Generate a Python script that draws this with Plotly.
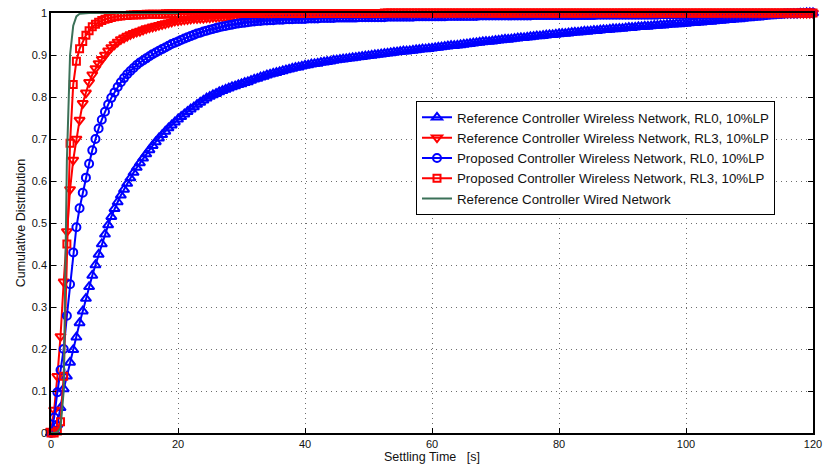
import plotly.graph_objects as go

# Sampling interval of the settling-time grid, seconds
TIME_STEP = 0.5

# Cumulative distribution of settling time, one value every 0.5 s from 0 s
ref_wireless_rl0 = [
    0.000, 0.005, 0.020, 0.060, 0.105, 0.135, 0.168, 0.198, 0.228, 0.262,
    0.290, 0.320, 0.348, 0.375, 0.400, 0.425, 0.450, 0.473, 0.495, 0.515,
    0.534, 0.550, 0.566, 0.580, 0.594, 0.607, 0.620, 0.632, 0.643, 0.654,
    0.664, 0.674, 0.684, 0.693, 0.702, 0.710, 0.718, 0.726, 0.733, 0.740,
    0.747, 0.753, 0.759, 0.765, 0.771, 0.776, 0.782, 0.787, 0.792, 0.797,
    0.801, 0.805, 0.808, 0.812, 0.815, 0.818, 0.821, 0.824, 0.826, 0.829,
    0.831, 0.834, 0.836, 0.839, 0.842, 0.844, 0.847, 0.849, 0.852, 0.854,
    0.856, 0.858, 0.860, 0.862, 0.864, 0.866, 0.868, 0.870, 0.871, 0.873,
    0.875, 0.876, 0.878, 0.879, 0.880, 0.882, 0.883, 0.884, 0.885, 0.887,
    0.888, 0.889, 0.890, 0.891, 0.892, 0.893, 0.894, 0.895, 0.896, 0.897,
    0.898, 0.899, 0.900, 0.901, 0.902, 0.903, 0.904, 0.905, 0.906, 0.907,
    0.908, 0.909, 0.909, 0.910, 0.911, 0.912, 0.913, 0.914, 0.914, 0.915,
    0.916, 0.917, 0.918, 0.919, 0.920, 0.921, 0.922, 0.922, 0.923, 0.924,
    0.925, 0.926, 0.927, 0.928, 0.929, 0.930, 0.931, 0.932, 0.932, 0.933,
    0.934, 0.935, 0.936, 0.937, 0.937, 0.938, 0.939, 0.940, 0.941, 0.941,
    0.942, 0.943, 0.944, 0.945, 0.945, 0.946, 0.947, 0.948, 0.948, 0.949,
    0.950, 0.951, 0.951, 0.952, 0.953, 0.954, 0.954, 0.955, 0.956, 0.956,
    0.957, 0.958, 0.958, 0.959, 0.960, 0.960, 0.961, 0.962, 0.962, 0.963,
    0.963, 0.964, 0.965, 0.965, 0.966, 0.967, 0.967, 0.968, 0.968, 0.969,
    0.970, 0.970, 0.971, 0.971, 0.972, 0.973, 0.973, 0.974, 0.974, 0.975,
    0.975, 0.976, 0.977, 0.977, 0.978, 0.978, 0.979, 0.980, 0.980, 0.981,
    0.982, 0.982, 0.983, 0.984, 0.984, 0.985, 0.986, 0.986, 0.987, 0.988,
    0.988, 0.989, 0.990, 0.990, 0.991, 0.992, 0.993, 0.993, 0.994, 0.995,
    0.995, 0.996, 0.997, 0.997, 0.998, 0.998, 0.999, 0.999, 1.000, 1.000,
    1.000,
]

ref_wireless_rl3 = [
    0.005, 0.055, 0.135, 0.230, 0.360, 0.480, 0.580, 0.650, 0.700, 0.745,
    0.785, 0.810, 0.835, 0.853, 0.868, 0.880, 0.890, 0.900, 0.910, 0.918,
    0.925, 0.931, 0.937, 0.941, 0.945, 0.949, 0.952, 0.955, 0.957, 0.960,
    0.963, 0.965, 0.967, 0.969, 0.971, 0.973, 0.975, 0.977, 0.979, 0.981,
    0.982, 0.983, 0.984, 0.985, 0.986, 0.987, 0.987, 0.988, 0.988, 0.989,
    0.989, 0.990, 0.990, 0.991, 0.991, 0.991, 0.992, 0.992, 0.992, 0.993,
    0.993, 0.993, 0.993, 0.994, 0.994, 0.994, 0.994, 0.994, 0.995, 0.995,
    0.995, 0.995, 0.995, 0.995, 0.995, 0.995, 0.995, 0.995, 0.995, 0.995,
    0.995, 0.995, 0.996, 0.996, 0.996, 0.996, 0.996, 0.996, 0.996, 0.996,
    0.996, 0.996, 0.996, 0.996, 0.996, 0.996, 0.996, 0.996, 0.996, 0.996,
    0.996, 0.996, 0.997, 0.997, 0.997, 0.997, 0.997, 0.997, 0.997, 0.997,
    0.997, 0.997, 0.997, 0.997, 0.997, 0.997, 0.997, 0.997, 0.997, 0.997,
    0.997, 0.997, 0.997, 0.997, 0.997, 0.998, 0.998, 0.998, 0.998, 0.998,
    0.998, 0.998, 0.998, 0.998, 0.998, 0.998, 0.998, 0.998, 0.998, 0.998,
    0.998, 0.998, 0.998, 0.998, 0.998, 0.998, 0.998, 0.998, 0.998, 0.998,
    0.998, 0.998, 0.998, 0.998, 0.998, 0.998, 0.998, 0.998, 0.998, 0.998,
    0.998, 0.998, 0.998, 0.998, 0.998, 0.999, 0.999, 0.999, 0.999, 0.999,
    0.999, 0.999, 0.999, 0.999, 0.999, 0.999, 0.999, 0.999, 0.999, 0.999,
    0.999, 0.999, 0.999, 0.999, 0.999, 0.999, 0.999, 0.999, 0.999, 0.999,
    0.999, 0.999, 0.999, 0.999, 0.999, 0.999, 0.999, 0.999, 0.999, 0.999,
    0.999, 0.999, 0.999, 0.999, 0.999, 0.999, 0.999, 0.999, 0.999, 0.999,
    0.999, 0.999, 0.999, 0.999, 0.999, 0.999, 0.999, 0.999, 0.999, 0.999,
    0.999, 0.999, 0.999, 0.999, 0.999, 1.000, 1.000, 1.000, 1.000, 1.000,
    1.000, 1.000, 1.000, 1.000, 1.000, 1.000, 1.000, 1.000, 1.000, 1.000,
    1.000,
]

prop_wireless_rl0 = [
    0.000, 0.037, 0.097, 0.150, 0.200, 0.279, 0.354, 0.430, 0.490, 0.535,
    0.572, 0.608, 0.641, 0.673, 0.700, 0.725, 0.746, 0.765, 0.782, 0.798,
    0.811, 0.824, 0.835, 0.845, 0.854, 0.862, 0.869, 0.876, 0.882, 0.887,
    0.892, 0.897, 0.902, 0.906, 0.910, 0.914, 0.918, 0.922, 0.926, 0.929,
    0.932, 0.936, 0.939, 0.942, 0.945, 0.948, 0.951, 0.953, 0.956, 0.958,
    0.960, 0.962, 0.964, 0.966, 0.968, 0.969, 0.971, 0.972, 0.974, 0.975,
    0.976, 0.977, 0.978, 0.979, 0.980, 0.981, 0.981, 0.982, 0.982, 0.983,
    0.983, 0.984, 0.984, 0.984, 0.985, 0.985, 0.985, 0.986, 0.986, 0.986,
    0.986, 0.987, 0.987, 0.987, 0.987, 0.988, 0.988, 0.988, 0.988, 0.988,
    0.989, 0.989, 0.989, 0.989, 0.989, 0.989, 0.989, 0.990, 0.990, 0.990,
    0.990, 0.990, 0.990, 0.990, 0.990, 0.990, 0.991, 0.991, 0.991, 0.991,
    0.991, 0.991, 0.991, 0.991, 0.991, 0.992, 0.992, 0.992, 0.992, 0.992,
    0.992, 0.992, 0.992, 0.992, 0.992, 0.993, 0.993, 0.993, 0.993, 0.993,
    0.993, 0.993, 0.993, 0.993, 0.993, 0.994, 0.994, 0.994, 0.994, 0.994,
    0.994, 0.994, 0.994, 0.994, 0.994, 0.994, 0.994, 0.994, 0.994, 0.994,
    0.994, 0.994, 0.995, 0.995, 0.995, 0.995, 0.995, 0.995, 0.995, 0.995,
    0.995, 0.995, 0.995, 0.995, 0.995, 0.995, 0.995, 0.995, 0.995, 0.995,
    0.995, 0.995, 0.996, 0.996, 0.996, 0.996, 0.996, 0.996, 0.996, 0.996,
    0.996, 0.996, 0.996, 0.996, 0.996, 0.996, 0.996, 0.996, 0.996, 0.996,
    0.996, 0.996, 0.997, 0.997, 0.997, 0.997, 0.997, 0.997, 0.997, 0.997,
    0.997, 0.997, 0.997, 0.997, 0.997, 0.997, 0.997, 0.997, 0.997, 0.997,
    0.997, 0.997, 0.998, 0.998, 0.998, 0.998, 0.998, 0.998, 0.998, 0.998,
    0.998, 0.998, 0.998, 0.998, 0.998, 0.998, 0.998, 0.998, 0.998, 0.998,
    0.998, 0.999, 0.999, 0.999, 0.999, 0.999, 1.000, 1.000, 1.000, 1.000,
    1.000,
]

prop_wireless_rl3 = [
    0.000, 0.000, 0.005, 0.027, 0.135, 0.450, 0.690, 0.830, 0.885, 0.915,
    0.932, 0.947, 0.958, 0.967, 0.973, 0.978, 0.982, 0.985, 0.987, 0.989,
    0.991, 0.992, 0.993, 0.994, 0.994, 0.995, 0.995, 0.996, 0.996, 0.996,
    0.997, 0.997, 0.997, 0.997, 0.997, 0.997, 0.998, 0.998, 0.998, 0.998,
    0.998, 0.998, 0.998, 0.998, 0.998, 0.998, 0.998, 0.998, 0.998, 0.998,
    0.998, 0.998, 0.998, 0.998, 0.998, 0.999, 0.999, 0.999, 0.999, 0.999,
    0.999, 0.999, 0.999, 0.999, 0.999, 0.999, 0.999, 0.999, 0.999, 0.999,
    0.999, 0.999, 0.999, 0.999, 0.999, 0.999, 0.999, 0.999, 0.999, 0.999,
    0.999, 0.999, 0.999, 0.999, 0.999, 0.999, 0.999, 0.999, 0.999, 0.999,
    0.999, 0.999, 0.999, 0.999, 0.999, 0.999, 0.999, 0.999, 0.999, 0.999,
    0.999, 0.999, 0.999, 0.999, 0.999, 1.000, 1.000, 1.000, 1.000, 1.000,
    1.000, 1.000, 1.000, 1.000, 1.000, 1.000, 1.000, 1.000, 1.000, 1.000,
    1.000, 1.000, 1.000, 1.000, 1.000, 1.000, 1.000, 1.000, 1.000, 1.000,
    1.000, 1.000, 1.000, 1.000, 1.000, 1.000, 1.000, 1.000, 1.000, 1.000,
    1.000, 1.000, 1.000, 1.000, 1.000, 1.000, 1.000, 1.000, 1.000, 1.000,
    1.000, 1.000, 1.000, 1.000, 1.000, 1.000, 1.000, 1.000, 1.000, 1.000,
    1.000, 1.000, 1.000, 1.000, 1.000, 1.000, 1.000, 1.000, 1.000, 1.000,
    1.000, 1.000, 1.000, 1.000, 1.000, 1.000, 1.000, 1.000, 1.000, 1.000,
    1.000, 1.000, 1.000, 1.000, 1.000, 1.000, 1.000, 1.000, 1.000, 1.000,
    1.000, 1.000, 1.000, 1.000, 1.000, 1.000, 1.000, 1.000, 1.000, 1.000,
    1.000, 1.000, 1.000, 1.000, 1.000, 1.000, 1.000, 1.000, 1.000, 1.000,
    1.000, 1.000, 1.000, 1.000, 1.000, 1.000, 1.000, 1.000, 1.000, 1.000,
    1.000, 1.000, 1.000, 1.000, 1.000, 1.000, 1.000, 1.000, 1.000, 1.000,
    1.000, 1.000, 1.000, 1.000, 1.000, 1.000, 1.000, 1.000, 1.000, 1.000,
    1.000,
]

# Wired network reference, sampled 0 .. 20 s
ref_wired = [
    0.000, 0.000, 0.002, 0.012, 0.100, 0.650, 0.900, 0.970, 0.992, 0.998,
    0.999, 1.000, 1.000, 1.000, 1.000, 1.000, 1.000, 1.000, 1.000, 1.000,
    1.000, 1.000, 1.000, 1.000, 1.000, 1.000, 1.000, 1.000, 1.000, 1.000,
    1.000, 1.000, 1.000, 1.000, 1.000, 1.000, 1.000, 1.000, 1.000, 1.000,
    1.000,
]

series_names = [
    "Reference Controller Wireless Network, RL0, 10%LP",
    "Reference Controller Wireless Network, RL3, 10%LP",
    "Proposed Controller Wireless Network, RL0, 10%LP",
    "Proposed Controller Wireless Network, RL3, 10%LP",
    "Reference Controller Wired Network",
]

x_tick_vals = [0, 20, 40, 60, 80, 100, 120]
y_tick_vals = [0, 0.1, 0.2, 0.3, 0.4, 0.5, 0.6, 0.7, 0.8, 0.9, 1]
y_tick_text = ["0", "0.1", "0.2", "0.3", "0.4", "0.5", "0.6", "0.7", "0.8", "0.9", "1"]


def times(values):
    return [i * TIME_STEP for i in range(len(values))]


BLUE = "#0000ff"
RED = "#ff0000"
GREEN = "#3b7158"
FONT = "Liberation Sans, Arial, Helvetica, sans-serif"

styles = [
    (ref_wireless_rl0, BLUE, "triangle-up-open", 9),
    (ref_wireless_rl3, RED, "triangle-down-open", 9),
    (prop_wireless_rl0, BLUE, "circle-open", 8),
    (prop_wireless_rl3, RED, "square-open", 7),
]

fig = go.Figure()
for (vals, color, symbol, size), name in zip(styles, series_names[:4]):
    fig.add_trace(go.Scatter(
        x=times(vals), y=vals, name=name, mode="lines+markers",
        line=dict(color=color, width=2),
        marker=dict(symbol=symbol, size=size, color=color,
                    line=dict(color=color, width=2)),
        cliponaxis=False,
    ))

fig.add_trace(go.Scatter(
    x=times(ref_wired), y=ref_wired, name=series_names[4], mode="lines",
    line=dict(color=GREEN, width=2), cliponaxis=False,
))

axis_common = dict(
    showline=True, linecolor="#000000", linewidth=1.5, mirror="ticks",
    ticks="inside", ticklen=5, tickwidth=1, tickcolor="#000000",
    showgrid=True, gridcolor="#6e6e6e", gridwidth=1, griddash="1px,4px",
    zeroline=False, automargin=False,
    tickfont=dict(family=FONT, size=11, color="#111111"),
)

fig.update_xaxes(range=[0, 120], tickvals=x_tick_vals, **axis_common)
fig.update_yaxes(range=[0, 1], tickvals=y_tick_vals, ticktext=y_tick_text,
                 **axis_common)

fig.update_layout(
    width=824, height=470,
    margin=dict(l=51, r=11, t=13, b=37, autoexpand=False),
    paper_bgcolor="#ffffff", plot_bgcolor="#ffffff",
    font=dict(family=FONT, color="#111111"),
    showlegend=True,
    legend=dict(
        x=0.479, y=0.79, xanchor="left", yanchor="top",
        bgcolor="#ffffff", bordercolor="#000000", borderwidth=1,
        font=dict(family=FONT, size=13.3, color="#111111"),
        tracegroupgap=0,
    ),
    annotations=[
        dict(text="Settling Time\u00a0\u00a0\u00a0[s]", xref="paper", yref="paper",
             x=0.5, y=-0.057, xanchor="center", yanchor="middle",
             showarrow=False, font=dict(family=FONT, size=12.5, color="#111111")),
        dict(text="Cumulative Distribution", xref="paper", yref="paper",
             x=-0.039, y=0.5, xanchor="center", yanchor="middle", textangle=-90,
             showarrow=False, font=dict(family=FONT, size=12.5, color="#111111")),
    ],
)

fig.write_html("out.html")
